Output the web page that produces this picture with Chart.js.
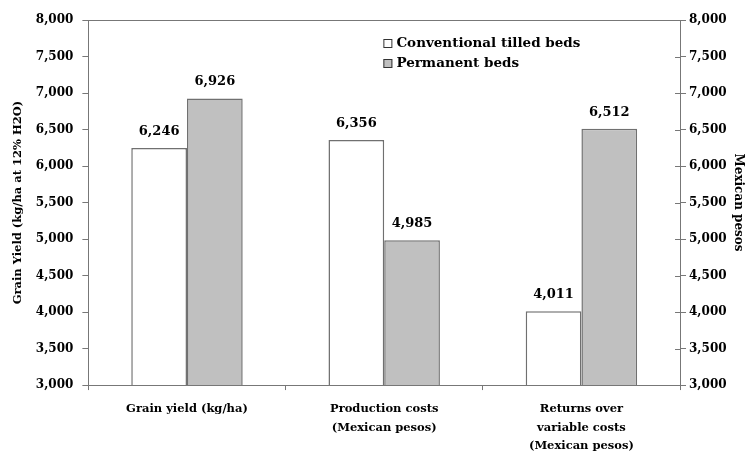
<!DOCTYPE html>
<html>
<head>
<meta charset="utf-8">
<script src="https://cdn.jsdelivr.net/npm/chart.js@4"></script>
<style>
  body { margin: 0; background: #fff; overflow: hidden; }
  #wrap { width: 748px; height: 465px; }
</style>
</head>
<body>
<div id="wrap"><canvas id="grainChart"></canvas></div>
<script>
const categories = [
    ['Grain yield (kg/ha)'],
    ['Production costs', '(Mexican pesos)'],
    ['Returns over', 'variable costs', '(Mexican pesos)']
];
const conventional = [6246, 6356, 4011];
const permanent = [6926, 4985, 6512];
const seriesNames = ['Conventional tilled beds', 'Permanent beds'];
const tickMin = 3000, tickMax = 8000, tickStep = 500;

const serif = '"DejaVu Serif", "Liberation Serif", serif';
const fmt = v => v.toLocaleString('en-US');

// frame round the plot area
const frame = {
    id: 'frame',
    afterDraw(chart) {
        const a = chart.chartArea, c = chart.ctx;
        c.save();
        c.strokeStyle = '#777';
        c.lineWidth = 1;
        c.strokeRect(Math.round(a.left) + 0.5, Math.round(a.top) + 0.5,
            Math.round(a.right - a.left), Math.round(a.bottom - a.top));
        // right axis ticks cross the line
        const y2 = chart.scales.y2;
        c.beginPath();
        y2.ticks.forEach((t, i) => {
            const y = Math.round(y2.getPixelForTick(i)) + 0.5;
            c.moveTo(a.right - 5, y);
            c.lineTo(a.right, y);
        });
        c.stroke();
        c.restore();
    }
};

// values over the bars
const barValues = {
    id: 'barValues',
    afterDatasetsDraw(chart) {
        const c = chart.ctx;
        c.save();
        c.font = 'bold 13px ' + serif;
        c.fillStyle = '#000';
        c.textAlign = 'center';
        c.textBaseline = 'bottom';
        chart.data.datasets.forEach((ds, i) => {
            chart.getDatasetMeta(i).data.forEach((bar, j) => {
                c.fillText(fmt(ds.data[j]), bar.x, bar.y - 10);
            });
        });
        c.restore();
    }
};

// legend inside the plot
const innerLegend = {
    id: 'innerLegend',
    afterDraw(chart) {
        const a = chart.chartArea, c = chart.ctx;
        c.save();
        c.font = 'bold 13.5px ' + serif;
        c.textBaseline = 'middle';
        chart.data.datasets.forEach((ds, i) => {
            const x = a.left + 295, y = a.top + 23 + i * 20;
            c.fillStyle = ds.backgroundColor;
            c.fillRect(x, y - 4, 9, 9);
            c.strokeStyle = '#333';
            c.lineWidth = 1;
            c.strokeRect(x + 0.5, y - 3.5, 8, 8);
            c.fillStyle = '#000';
            c.fillText(ds.label, x + 13, y);
        });
        c.restore();
    }
};

const tickFont = { family: serif, size: 12, weight: 'bold' };

new Chart(document.getElementById('grainChart'), {
    type: 'bar',
    data: {
        labels: categories,
        datasets: [{
            label: seriesNames[0],
            data: conventional,
            backgroundColor: '#ffffff',
            borderColor: '#707070',
            borderWidth: 1.5
        }, {
            label: seriesNames[1],
            data: permanent,
            backgroundColor: '#c0c0c0',
            borderColor: '#707070',
            borderWidth: 1.5
        }]
    },
    options: {
        responsive: true,
        maintainAspectRatio: false,
        animation: false,
        layout: { padding: { top: 20, right: 2, left: 9, bottom: 0 } },
        datasets: { bar: { categoryPercentage: 0.565, barPercentage: 1 } },
        plugins: {
            legend: { display: false },
            tooltip: { enabled: false }
        },
        scales: {
            x: {
                grid: { drawOnChartArea: false, tickLength: 5, color: '#777' },
                border: { color: '#777' },
                ticks: { font: { family: serif, size: 11.5, weight: 'bold', lineHeight: 1.65 }, color: '#000', maxRotation: 0, padding: 9 }
            },
            y: {
                position: 'left',
                min: tickMin, max: tickMax,
                ticks: { stepSize: tickStep, font: tickFont, color: '#000', callback: v => fmt(v), padding: 9 },
                grid: { drawOnChartArea: false, tickLength: 6, color: '#777' },
                border: { color: '#777' },
                title: { display: true, text: 'Grain Yield (kg/ha at 12% H2O)', font: { family: serif, size: 11.5, weight: 'bold' }, color: '#000', padding: 2 }
            },
            y2: {
                position: 'right',
                min: tickMin, max: tickMax,
                ticks: { stepSize: tickStep, font: tickFont, color: '#000', callback: v => fmt(v), padding: 3 },
                grid: { drawOnChartArea: false, tickLength: 6, color: '#777' },
                border: { color: '#777' },
                title: { display: true, text: 'Mexican pesos', font: { family: serif, size: 12, weight: 'bold' }, color: '#000', padding: 1 }
            }
        }
    },
    plugins: [frame, barValues, innerLegend]
});
</script>
</body>
</html>
